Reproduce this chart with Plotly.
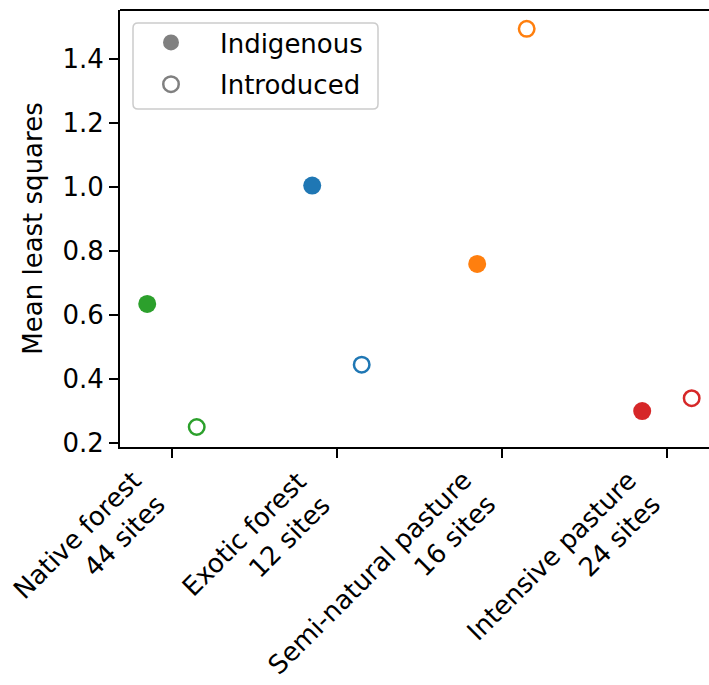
import plotly.graph_objects as go

categories = ["Native forest<br>44 sites", "Exotic forest<br>12 sites",
              "Semi-natural pasture<br>16 sites", "Intensive pasture<br>24 sites"]
colors = ["#2ca02c", "#1f77b4", "#ff7f0e", "#d62728"]
indigenous = [0.635, 1.005, 0.76, 0.30]
introduced = [0.25, 0.445, 1.495, 0.34]
offset = 0.15

FONT = "DejaVu Sans"
FS = 26
fig = go.Figure()
pos = list(range(len(categories)))
fig.add_trace(go.Scatter(
    x=[p - offset for p in pos], y=indigenous, mode="markers",
    marker=dict(size=18, color=colors, line=dict(width=0)),
    showlegend=False, hoverinfo="skip"))
fig.add_trace(go.Scatter(
    x=[p + offset for p in pos], y=introduced, mode="markers",
    marker=dict(size=15.5, color="white", line=dict(width=2.5, color=colors)),
    showlegend=False, hoverinfo="skip"))
# legend proxies
fig.add_trace(go.Scatter(x=[None], y=[None], mode="markers", name="Indigenous",
                         legendgroup="a",
                         marker=dict(size=18, color="#808080")))
fig.add_trace(go.Scatter(x=[None], y=[None], mode="markers", name="Introduced",
                         legendgroup="b",
                         marker=dict(size=15.5, color="white", line=dict(width=2.5, color="#808080"))))

# plot area pixels: x 120..709, y 10..447
def px_x(p):
    return (p - 120) / 589.0

def px_y(p):
    return (447 - p) / 437.0

x0, x1, y0, y1, r = 133, 378, 23, 109, 5
path = (f"M {px_x(x0 + r)},{px_y(y0)} L {px_x(x1 - r)},{px_y(y0)} "
        f"Q {px_x(x1)},{px_y(y0)} {px_x(x1)},{px_y(y0 + r)} "
        f"L {px_x(x1)},{px_y(y1 - r)} Q {px_x(x1)},{px_y(y1)} {px_x(x1 - r)},{px_y(y1)} "
        f"L {px_x(x0 + r)},{px_y(y1)} Q {px_x(x0)},{px_y(y1)} {px_x(x0)},{px_y(y1 - r)} "
        f"L {px_x(x0)},{px_y(y0 + r)} Q {px_x(x0)},{px_y(y0)} {px_x(x0 + r)},{px_y(y0)} Z")
fig.add_shape(type="path", xref="paper", yref="paper", path=path,
              line=dict(color="#cccccc", width=1.5), fillcolor="rgba(255,255,255,0.8)",
              layer="below")

for p, lab in zip(pos, categories):
    fig.add_annotation(x=p, y=0, xref="x", yref="paper", text=lab, showarrow=False,
                       textangle=-45, xanchor="right", yanchor="top", align="right",
                       xshift=2, yshift=-16, font=dict(size=FS, family=FONT, color="black"))

fig.update_layout(
    width=709, height=685,
    margin=dict(l=120, r=0, t=10, b=238),
    paper_bgcolor="white", plot_bgcolor="white",
    font=dict(family=FONT, size=FS, color="black"),
    legend=dict(x=px_x(122), y=px_y(19), xanchor="left", yanchor="top",
                bgcolor="rgba(0,0,0,0)", borderwidth=0,
                font=dict(size=FS), itemwidth=88, tracegroupgap=5),
    xaxis=dict(range=[-0.315, 3.255], tickmode="array", tickvals=pos, showticklabels=False,
               ticks="outside", ticklen=9, tickwidth=2, tickcolor="black", automargin=False,
               showline=True, linecolor="black", linewidth=2, showgrid=False, zeroline=False),
    yaxis=dict(range=[0.1875, 1.554], tickmode="array",
               tickvals=[0.2, 0.4, 0.6, 0.8, 1.0, 1.2, 1.4],
               ticktext=["0.2", "0.4", "0.6", "0.8", "1.0", "1.2", "1.4"],
               ticks="outside", ticklen=9, tickwidth=2, tickcolor="black", automargin=False,
               showline=True, linecolor="black", linewidth=2, showgrid=False, zeroline=False,
               tickfont=dict(size=FS),
               title=dict(text="Mean least squares", font=dict(size=FS), standoff=12)),
)
fig.add_shape(type="line", xref="paper", yref="paper", x0=0, x1=1, y0=1, y1=1,
              line=dict(color="black", width=2))
fig.write_html("out.html")
